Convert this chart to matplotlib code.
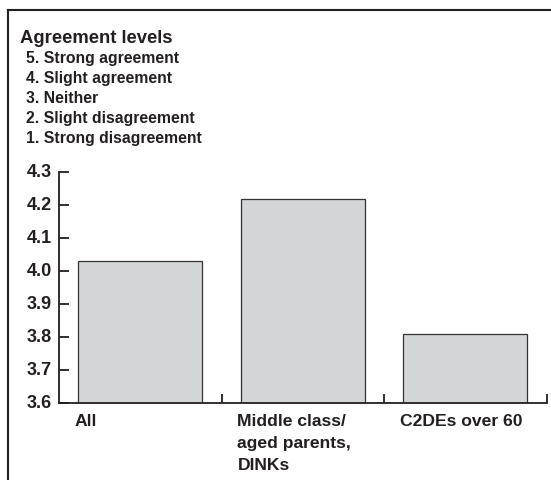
import matplotlib
matplotlib.use("Agg")
import matplotlib.pyplot as plt
from matplotlib import transforms
from matplotlib.lines import Line2D

plt.rcParams['font.family'] = ['Liberation Sans', 'DejaVu Sans']
plt.rcParams['font.weight'] = 'bold'

# Data
categories = ["All", "Middle class/\naged parents,\nDINKs", "C2DEs over 60"]
scores = [4.03, 4.22, 3.81]
yticks = [3.6, 3.7, 3.8, 3.9, 4.0, 4.1, 4.2, 4.3]
legend_title = "Agreement levels"
legend_items = ["5. Strong agreement", "4. Slight agreement", "3. Neither",
                "2. Slight disagreement", "1. Strong disagreement"]

INK = '#231f20'
W, H = 551, 481
fig = plt.figure(figsize=(W / 100, H / 100), dpi=100)

# axes box in pixel terms
left_px, right_px, top_px, bottom_px = 59, 546.5, 173.3, 404.3
ax = fig.add_axes([left_px / W, 1 - bottom_px / H,
                   (right_px - left_px) / W, (bottom_px - top_px) / H])

x = list(range(len(categories)))
bar_w = 0.764
ax.bar(x, scores, width=bar_w, bottom=0, color='#d3d6d7',
       edgecolor='#333333', linewidth=0.9, zorder=2)

ax.set_xlim(-0.5, len(categories) - 0.5)
ax.set_ylim(yticks[0], yticks[-1])

for s in ['top', 'right']:
    ax.spines[s].set_visible(False)
for s in ['left', 'bottom']:
    ax.spines[s].set_linewidth(1.3)
    ax.spines[s].set_color(INK)
    ax.spines[s].set_zorder(3)

ax.set_yticks(yticks)
ax.set_yticklabels([f"{v:.1f}" for v in yticks])
ax.tick_params(axis='y', direction='in', length=7.5, width=1.3, color=INK,
               labelsize=13, labelcolor=INK, pad=5)
# value labels sit a little above their tick marks
lift = transforms.ScaledTranslation(0, 3 / 100, fig.dpi_scale_trans)
for lbl in ax.get_yticklabels():
    lbl.set_transform(lbl.get_transform() + lift)

# category boundary ticks on the x axis
ax.set_xticks([i + 0.5 for i in x])
ax.set_xticklabels([])
ax.tick_params(axis='x', direction='in', length=6.5, width=1.3, color=INK)

# category labels, left aligned with each bar, one line at a time
blend = transforms.blended_transform_factory(ax.transData, fig.transFigure)
for i, lab in enumerate(categories):
    for j, line in enumerate(lab.split("\n")):
        fig.text(i - bar_w / 2 - 0.02, 1 - (426.5 + 22 * j) / H, line,
                 transform=blend, ha='left', va='baseline', fontsize=12.6,
                 fontweight='bold', color=INK)

# scale key
fig.text(20 / W, 1 - 43.2 / H, legend_title, ha='left', va='baseline',
         fontsize=13.3, fontweight='bold', color=INK)
for k, item in enumerate(legend_items):
    fig.text(26.5 / W, 1 - (62.9 + k * 20.0) / H, item, ha='left',
             va='baseline', fontsize=11.3, fontweight='bold', color=INK)

# frame lines along top and left
fig.add_artist(Line2D([7.5 / W, 1.0], [1 - 10.5 / H, 1 - 10.5 / H],
                      transform=fig.transFigure, color=INK, linewidth=1.5))
fig.add_artist(Line2D([7.5 / W, 7.5 / W], [1 - 10.5 / H, 0.0],
                      transform=fig.transFigure, color=INK, linewidth=1.5))

fig.savefig("out.png", dpi=100)
